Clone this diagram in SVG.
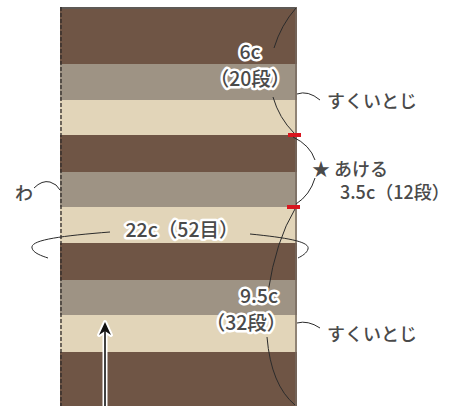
<svg xmlns="http://www.w3.org/2000/svg" width="457" height="406" viewBox="0 0 457 406">
<style>
.dk{fill:#6f5545}.gy{fill:#9e9384}.bg{fill:#e2d5b9}
.ln{fill:none;stroke:#2b2b2b;stroke-width:1}
.t{font-family:"Noto Sans CJK JP","Noto Sans",sans-serif;font-size:18px;fill:#4a4a4a;font-weight:500}
.h{font-size:19.5px;stroke:#fff;stroke-width:5;stroke-linejoin:round;paint-order:stroke fill}
.red{fill:#d9161f}
</style>
<rect width="457" height="406" fill="#fff"/>
<g id="fabric">
<rect class="dk" x="60" y="7" width="237" height="57"/>
<rect class="gy" x="60" y="64" width="237" height="36"/>
<rect class="bg" x="60" y="100" width="237" height="35"/>
<rect class="dk" x="60" y="135" width="237" height="37"/>
<rect class="gy" x="60" y="172" width="237" height="35"/>
<rect class="bg" x="60" y="207" width="237" height="36"/>
<rect class="dk" x="60" y="243" width="237" height="37"/>
<rect class="gy" x="60" y="280" width="237" height="35"/>
<rect class="bg" x="60" y="315" width="237" height="37"/>
<rect class="dk" x="60" y="352" width="237" height="54"/>
<rect x="60" y="7" width="237" height="2" fill="#5e5955"/>
<line x1="296" y1="7" x2="296" y2="406" stroke="#74695f" stroke-width="1.5"/>
<line x1="61" y1="7" x2="61" y2="406" stroke="#2e2a28" stroke-width="1.3" stroke-dasharray="4 2"/>
<rect class="red" x="288" y="133" width="13" height="4"/>
<rect class="red" x="287" y="205" width="13" height="4"/>
</g>
<g id="connectors">
<path class="ln" d="M296,8 Q281,25 274,48"/>
<path class="ln" d="M273,97 Q279,118 294,133"/>
<path class="ln" d="M297,94 Q308,90 320,100"/>
<path class="ln" d="M293,137 Q310,145 315,160"/>
<path class="ln" d="M315,178 Q310,195 296,204"/>
<path class="ln" d="M34,188 Q42,180 50,182 Q57,184 60,190"/>
<path class="ln" d="M110,232 C60,236 30,240 32,248 C33,253 42,256 48,258"/>
<path class="ln" d="M250,234 C290,238 310,242 308,249 C307,253 302,256 298,258"/>
<path class="ln" d="M295,209 Q276,240 268,292"/>
<path class="ln" d="M267,337 Q271,385 295,405"/>
<path class="ln" d="M297,323 Q308,320 320,328"/>
</g>
<g id="arrow">
<line x1="105" y1="330" x2="105" y2="406" stroke="#fff" stroke-width="5"/>
<path d="M105,322 L111,335 L105,331 L99,335 Z" fill="#fff" stroke="#fff" stroke-width="4" stroke-linejoin="round"/>
<line x1="105" y1="330" x2="105" y2="406" stroke="#111" stroke-width="1.6"/>
<path d="M105,322 L111,335 L105,331 L99,335 Z" fill="#111"/>
</g>
<g id="label-6c">
<text class="t h" text-anchor="middle"><tspan x="250" y="59">6c</tspan><tspan x="250" y="86">（20段）</tspan></text>
</g>
<g id="label-sukui1"><text class="t" x="327" y="108">すくいとじ</text></g>
<g id="label-akeru">
<text class="t"><tspan x="312" y="176">★ あける</tspan><tspan x="340" y="199">3.5c（12段）</tspan></text>
</g>
<g id="label-wa"><text class="t" x="15" y="200">わ</text></g>
<g id="label-22c"><text class="t h" x="182" y="237" text-anchor="middle">22c（52目）</text></g>
<g id="label-9c">
<text class="t h"><tspan x="278" y="303" text-anchor="end">9.5c</tspan><tspan x="246" y="330" text-anchor="middle">（32段）</tspan></text>
</g>
<g id="label-sukui2"><text class="t" x="327" y="341">すくいとじ</text></g>
</svg>
